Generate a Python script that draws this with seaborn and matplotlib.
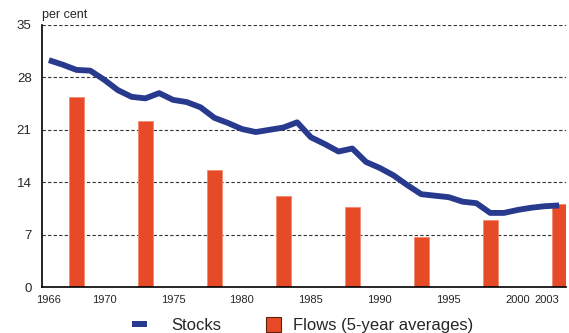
import matplotlib
matplotlib.use("Agg")
import matplotlib.pyplot as plt
from matplotlib.patches import Patch, Rectangle
from matplotlib.legend_handler import HandlerPatch
import seaborn as sns
import pandas as pd

# Stock share, per cent, annual
stock_years = list(range(1966, 2004))
stock_values = [30.3, 29.7, 29.0, 28.9, 27.7, 26.3, 25.4, 25.2, 25.9, 25.0,
                24.7, 24.0, 22.6, 21.9, 21.1, 20.7, 21.0, 21.3, 22.0, 20.0,
                19.1, 18.1, 18.5, 16.7, 15.9, 14.9, 13.6, 12.4, 12.2, 12.0,
                11.4, 11.2, 9.9, 9.9, 10.3, 10.6, 10.8, 10.9]

# Flow share, 5-year averages centred on these years
flow_years = [1968, 1973, 1978, 1983, 1988, 1993, 1998, 2003]
flow_values = [25.4, 22.2, 15.6, 12.2, 10.7, 6.7, 8.9, 11.1]

x_ticks = [1966, 1970, 1975, 1980, 1985, 1990, 1995, 2000, 2003]
y_ticks = [0, 7, 14, 21, 28, 35]

navy = "#283a8e"
orange = "#e64a26"

sns.set_theme(style="white")
plt.rcParams["font.family"] = ["Liberation Sans", "DejaVu Sans"]

fig = plt.figure(figsize=(5.69, 3.33), dpi=100)
ax = fig.add_axes([0.0738, 0.138, 0.921, 0.787])

for y in y_ticks[1:]:
    ax.axhline(y, color="#333333", lw=0.8, ls=(0, (3, 2)), zorder=0)

flows = pd.DataFrame({"year": flow_years, "value": flow_values})
sns.barplot(data=flows, x="year", y="value", native_scale=True, width=0.22,
            color=orange, saturation=1, edgecolor="#f08a70", linewidth=0.6,
            ax=ax, zorder=2)

stocks = pd.DataFrame({"year": stock_years, "value": stock_values})
sns.lineplot(data=stocks, x="year", y="value", color=navy, lw=4.2,
             ax=ax, zorder=3, solid_capstyle="butt", solid_joinstyle="round")

ax.set_xlim(1965.5, 2003.5)
ax.set_ylim(0, 35)
ax.set_xticks(x_ticks)
ax.set_xticklabels([str(t) for t in x_ticks], fontsize=8)
ax.set_yticks(y_ticks)
ax.set_yticklabels([str(t) for t in y_ticks], fontsize=9.5)
ax.tick_params(axis="both", length=0)
ax.tick_params(axis="y", pad=7.5)
ax.tick_params(axis="x", pad=6)
# keep the last year label inside the figure edge
last = ax.get_xticklabels()[-1]
last.set_horizontalalignment("right")
last.set_x(2003.6)
ax.set_xlabel("")
ax.set_ylabel("")

for side in ["top", "right"]:
    ax.spines[side].set_visible(False)
for side in ["left", "bottom"]:
    ax.spines[side].set_color("black")
    ax.spines[side].set_linewidth(1.2)

fig.text(0.074, 0.947, "per cent", fontsize=9, ha="left", va="baseline")

# Legend keys: a short thick bar on the left of its box, a square on the right
KEY = 10.8  # points


def stock_key(legend, orig_handle, xdescent, ydescent, width, height, fontsize):
    yc = height / 2 - ydescent
    return Rectangle((-xdescent, yc - 2.0), KEY, 4.0)


def flow_key(legend, orig_handle, xdescent, ydescent, width, height, fontsize):
    yc = height / 2 - ydescent
    return Rectangle((-xdescent + width - KEY, yc - KEY / 2), KEY, KEY)


stock_handle = Patch(facecolor=navy, edgecolor="none")
flow_handle = Patch(facecolor=orange, edgecolor="#5a2010", linewidth=0.8)
fig.legend([stock_handle, flow_handle], ["Stocks", "Flows (5-year averages)"],
           handler_map={stock_handle: HandlerPatch(patch_func=stock_key),
                        flow_handle: HandlerPatch(patch_func=flow_key)},
           loc="lower center", bbox_to_anchor=(0.532, -0.045),
           ncol=2, frameon=False, fontsize=12, handlelength=1.64,
           handleheight=0.9, handletextpad=0.7, columnspacing=1.98)

fig.savefig("out.png", dpi=100)
